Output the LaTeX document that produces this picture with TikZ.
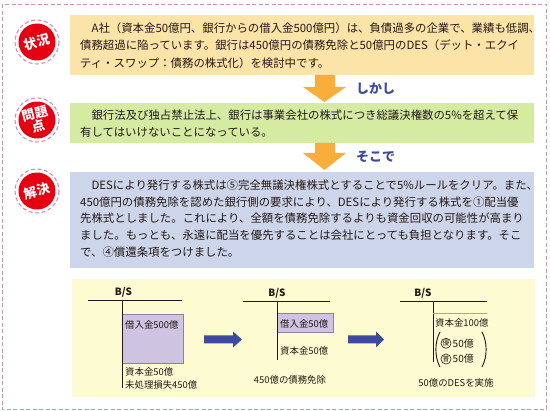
\documentclass[tikz,border=0pt]{standalone}
\usepackage{fontspec}
\setmainfont{Noto Sans CJK JP}
\definecolor{borderpink}{HTML}{D48FAE}
\definecolor{badgered}{HTML}{E50012}
\definecolor{boxpeach}{HTML}{FCE3A8}
\definecolor{boxgreen}{HTML}{D5EBA2}
\definecolor{boxblue}{HTML}{CDD5EA}
\definecolor{panelyellow}{HTML}{FDFBD1}
\definecolor{arroworange}{HTML}{F9AE3C}
\definecolor{arrowblue}{HTML}{3E4A9E}
\definecolor{textcol}{HTML}{231815}
\definecolor{purplefill}{HTML}{CEC3E1}
\definecolor{purpleedge}{HTML}{8A849A}
\begin{document}
\begin{tikzpicture}[x=1pt,y=-1pt,
  pinkdash/.style={draw=borderpink, line width=1.1pt, dash pattern=on 4pt off 2.5pt},
  bodytext/.style={anchor=west, inner sep=0pt, text=textcol, font=\fontsize{11.4}{13}\selectfont},
  badgedisc/.style={circle, fill=badgered, minimum size=37pt, inner sep=0pt, text=white, align=center, rotate=15, font=\bfseries\fontsize{13}{13.5}\selectfont},
  cuetext/.style={anchor=west, inner sep=0pt, text=arrowblue, font=\bfseries\fontsize{13}{14}\selectfont},
  smalltext/.style={anchor=west, inner sep=0pt, text=textcol, font=\fontsize{9.4}{11}\selectfont},
  midtext/.style={anchor=west, inner sep=0pt, text=textcol, font=\fontsize{10}{11}\selectfont},
  captext/.style={inner sep=0pt, text=textcol, font=\fontsize{9.4}{11}\selectfont},
  bstitle/.style={inner sep=0pt, text=textcol, font=\bfseries\fontsize{10}{11}\selectfont},
  bsline/.style={draw=textcol, line width=0.8pt},
  circled/.style={circle, draw=textcol, line width=0.6pt, inner sep=0.3pt, minimum size=9.5pt, text=textcol, font=\fontsize{6.8}{7}\selectfont},
  parenline/.style={draw=textcol, line width=0.9pt}
]
\useasboundingbox (0,0) rectangle (550,411);
% outer frame
\draw[pinkdash] (2.5,4.5) rectangle (546.5,409.5);

% coloured boxes
\fill[boxpeach] (70,15) rectangle (534,75);
\fill[boxgreen] (70,103) rectangle (534,143);
\fill[boxblue] (70,172) rectangle (534,268);
\fill[panelyellow] (72,279) rectangle (535,397);

% badges
\draw[pinkdash] (37,42) circle (22);
\node[badgedisc] (b1) at (37,42) {状況};
\draw[pinkdash] (37,120) circle (22);
\node[badgedisc] (b2) at (37,120) {問題\\点};
\draw[pinkdash] (37,191) circle (22);
\node[badgedisc] (b3) at (37,191) {解決};

% box 1 text
\node[bodytext] (s1) at (80,28) {　A社（資本金50億円、銀行からの借入金500億円）は、負債過多の企業で、業績も低調、};
\node[bodytext] (s2) at (80,45.5) {債務超過に陥っています。銀行は450億円の債務免除と50億円のDES（デット・エクイ};
\node[bodytext] (s3) at (80,63) {ティ・スワップ：債務の株式化）を検討中です。};

% arrow 1
\fill[arroworange] (315,75) -- (335,75) -- (335,87) -- (346,87) -- (324.5,102) -- (303,87) -- (315,87) -- cycle;
\node[cuetext] (c1) at (356,89) {しかし};

% box 2 text
\node[bodytext] (p1) at (80,115.5) {　銀行法及び独占禁止法上、銀行は事業会社の株式につき総議決権数の5\%を超えて保};
\node[bodytext] (p2) at (80,132) {有してはいけないことになっている。};

% arrow 2
\fill[arroworange] (315,143) -- (335,143) -- (335,153) -- (346,153) -- (324.5,170) -- (303,153) -- (315,153) -- cycle;
\node[cuetext] (c2) at (356,157) {そこで};

% box 3 text
\node[bodytext] (k1) at (80,185) {　DESにより発行する株式は⑤完全無議決権株式とすることで5\%ルールをクリア。また、};
\node[bodytext] (k2) at (80,201.8) {450億円の債務免除を認めた銀行側の要求により、DESにより発行する株式を①配当優};
\node[bodytext] (k3) at (80,218.6) {先株式としました。これにより、全額を債務免除するよりも資金回収の可能性が高まり};
\node[bodytext] (k4) at (80,235.4) {ました。もっとも、永遠に配当を優先することは会社にとっても負担となります。そこ};
\node[bodytext] (k5) at (80,252.2) {で、④償還条項をつけました。};

% B/S 1
\node[bstitle] (bs1) at (123.5,292) {B/S};
\fill[purplefill] (122,314) rectangle (183,363);
\draw[purpleedge, line width=0.6pt] (122,314) rectangle (183,363);
\draw[bsline] (88,300) -- (182,300);
\draw[bsline] (122,300) -- (122,388);
\node[smalltext] (l1a) at (125,325) {借入金500億};
\node[smalltext] (l1b) at (125,372) {資本金50億};
\node[smalltext] (l1c) at (125,384.5) {未処理損失450億};

% blue arrow 1
\fill[arrowblue] (204,335.5) -- (233,335.5) -- (233,331.5) -- (242,339.5) -- (233,347.5) -- (233,343.5) -- (204,343.5) -- cycle;

% B/S 2
\node[bstitle] (bs2) at (277,293) {B/S};
\fill[purplefill] (277,313) rectangle (333,332);
\draw[purpleedge, line width=0.6pt] (277,313) rectangle (333,332);
\draw[bsline] (243,301) -- (330,301);
\draw[bsline] (277,301) -- (277,360);
\node[smalltext] (l2a) at (280,323.5) {借入金50億};
\node[smalltext] (l2b) at (280,351) {資本金50億};
\node[captext] (cap2) at (290,380) {450億の債務免除};

% blue arrow 2
\fill[arrowblue] (348,335.5) -- (376,335.5) -- (376,331.5) -- (384,339.5) -- (376,347.5) -- (376,343.5) -- (348,343.5) -- cycle;

% B/S 3
\node[bstitle] (bs3) at (423,293) {B/S};
\draw[bsline] (400,301) -- (487,301);
\draw[bsline] (433,301) -- (433,362);
\draw[draw=gray!70, line width=0.8pt] (433,313) -- (487,313);
\node[smalltext] (l3a) at (435,323) {資本金100億};
\node[circled] (yu) at (446,343.3) {優};
\node[circled] (fu) at (446,359) {普};
\node[midtext] (l3b) at (452.5,343.5) {50億};
\node[midtext] (l3c) at (452.5,359) {50億};
\draw[parenline] (440,332) .. controls (434.5,342) and (434.5,357) .. (440,367);
\draw[parenline] (482,332) .. controls (487.5,342) and (487.5,357) .. (482,367);
\node[captext] (cap3) at (456,383) {50億のDESを実施};
\end{tikzpicture}
\end{document}
